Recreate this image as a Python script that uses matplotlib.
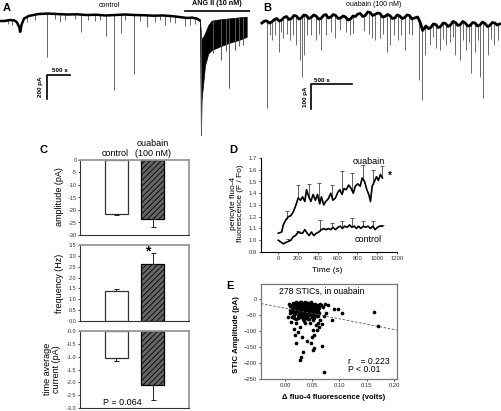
import numpy as np
import matplotlib
matplotlib.use("Agg")
from matplotlib import pyplot as plt

plt.rcParams['font.family'] = ['Liberation Sans', 'DejaVu Sans']
plt.rcParams['hatch.linewidth'] = 0.6

W, H = 501, 411

# ---- A: control then ANG II trace (s, pA)
a_ctrl_t = [0, 100, 200, 300, 350, 400, 420, 450, 500, 600, 800, 1000, 1200, 1400, 1600, 1800,
            2000, 2200, 2400, 2600, 2800, 3000, 3200, 3400, 3600, 3800, 3900, 4000, 4100, 4160]
a_ctrl_i = [-50, -50, -42, -45, -60, -100, -140, -80, -30, -8, 8, 12, 8, 4, 6, 0,
            2, -4, 0, 4, 0, -2, -6, -4, -10, -20, -25, -22, -30, -45]
a_spk_t = [167, 250, 563, 729, 979, 1146, 1250, 1354, 1563, 1688, 1833, 1979, 2083, 2208, 2375,
           2521, 2604, 2792, 2917, 3063, 3229, 3333, 3438, 3542, 3646, 3854, 3958, 4063]
a_spk_i = [-75, -83, -58, -42, -350, -33, -58, -42, -33, -142, -42, -50, -42, -175, -625,
           -150, -42, -492, -50, -100, -58, -42, -83, -58, -67, -92, -83, -75]
ang_t = [4165, 4185, 4201, 4236, 4271, 4340, 4410, 4583, 4792, 5000, 5139]
ang_hi = [-45, -150, -200, -180, -150, -83, -47, -36, -28, -19, -14]
ang_lo = [-45, -1000, -700, -560, -420, -320, -292, -262, -230, -205, -183]
ang_spk_t = [4181, 4437, 4597, 4700, 4771, 4900, 4980, 5063]
ang_spk_i = [-1000, -317, -375, -300, -608, -290, -260, -250]

# ---- B: ouabain trace (s, pA)
b_t = [0, 30, 60, 90, 120, 150, 180, 210, 240, 270, 300, 330, 360, 390, 420, 450, 480, 510,
       540, 570, 600, 630, 660, 690, 720, 750, 780, 810, 840, 870, 900, 930, 960, 990, 1020,
       1050, 1080, 1110, 1140, 1170, 1200, 1230, 1260, 1290, 1320, 1350, 1380, 1410, 1440,
       1470, 1500, 1530, 1560, 1590, 1620, 1650, 1680, 1710, 1740, 1770, 1800, 1830, 1860,
       1900, 1930, 1960, 2000, 2030, 2060, 2090, 2120, 2150, 2180, 2210, 2240, 2270, 2300,
       2330, 2360, 2390, 2420, 2450, 2480, 2510, 2540, 2570, 2600, 2630, 2660, 2690, 2720,
       2750, 2780, 2810, 2840, 2870, 2900]
b_i = [-12, -4, -4, -12, -8, 2, 6, -4, 0, 10, 14, 2, 6, 18, 16, 4, 8, 20,
       18, 6, 10, 20, 16, 4, 6, 18, 22, 8, 12, 22, 18, 6, 8, 16, 12,
       0, 4, 16, 14, 24, 26, 14, 18, 32, 30, 18, 22, 28, 26,
       12, 14, 22, 18, 6, 8, 20, 16, 6, 10, 20, 18, 4, 8,
       12, -10, -42, -24, -34, -30, -16, -18, -30, -26, -12, -14, -26, -20,
       -6, -10, -22, -18, -6, -12, -24, -22, -10, -12, -24, -20, -8, -14,
       -26, -22, -10, -12, -20, -16]
b_spk_t = [61, 100, 122, 159, 207, 230, 256, 300, 342, 380, 415, 464, 488, 512, 550, 598, 659,
           690, 720, 781, 840, 891, 952, 1020, 1074, 1110, 1250, 1300, 1342, 1379, 1440, 1480,
           1525, 1562, 1610, 1659, 1700, 1745, 1790, 1830, 1915, 1952, 1989, 2050, 2090, 2123,
           2172, 2210, 2245, 2294, 2330, 2355, 2416, 2450, 2489, 2520, 2550, 2599, 2630, 2660,
           2696, 2757, 2790, 2830, 2879]
b_spk_i = [-352, -60, -80, -60, -128, -50, -72, -55, -80, -60, -100, -160, -228, -140, -60, -60,
           -80, -55, -120, -60, -50, -72, -40, -50, -60, -52, -45, -55, -72, -80, -72, -55,
           -128, -100, -60, -80, -60, -120, -55, -60, -240, -320, -140, -100, -70, -112,
           -120, -75, -100, -88, -70, -140, -160, -80, -120, -90, -212, -128, -80, -228,
           -312, -140, -75, -100, -80]

# ---- C: bar summary
groups = ['control', 'ouabain']
amp_mean = [-21.5, -23.7]
amp_sem = [0.4, 3.2]
freq_mean = [1.37, 2.62]
freq_sem = [0.1, 0.5]
tac_mean = [-1.06, -2.12]
tac_sem = [0.09, 0.56]

# ---- D: fluo-4 time course
ouab_t = [0, 34, 50, 74, 101, 127, 151, 174, 201, 225, 245, 268, 285, 308, 329, 352, 375, 396,
          419, 436, 459, 479, 503, 530, 553, 577, 603, 623, 644, 664, 687, 711, 737, 758, 778,
          804, 828, 848, 872, 895, 915, 932, 949, 972, 992, 1012, 1032, 1053]
ouab_f = [1.06, 1.07, 1.13, 1.17, 1.20, 1.21, 1.24, 1.29, 1.36, 1.34, 1.37, 1.33, 1.43, 1.37,
          1.33, 1.39, 1.34, 1.39, 1.31, 1.37, 1.30, 1.33, 1.35, 1.40, 1.34, 1.36, 1.41, 1.43,
          1.39, 1.44, 1.43, 1.47, 1.44, 1.40, 1.46, 1.48, 1.46, 1.53, 1.50, 1.43, 1.39, 1.33,
          1.46, 1.50, 1.54, 1.51, 1.56, 1.53]
ouab_err_t = [84, 201, 312, 412, 543, 647, 744, 855, 962, 1049]
ouab_err_top = [1.25, 1.47, 1.48, 1.49, 1.47, 1.59, 1.57, 1.64, 1.60, 1.63]
ctrl_t = [0, 17, 50, 74, 101, 127, 151, 174, 201, 225, 245, 268, 292, 312, 335, 359, 385, 409,
          436, 459, 483, 506, 530, 553, 577, 603, 627, 647, 670, 694, 721, 744, 768, 791, 811,
          835, 859, 885, 905, 932, 956, 979, 1002, 1026, 1053]
ctrl_f = [1.00, 0.99, 0.97, 0.98, 0.99, 1.00, 1.03, 1.04, 1.07, 1.06, 1.06, 1.09, 1.06, 1.04,
          1.07, 1.04, 1.06, 1.07, 1.09, 1.10, 1.09, 1.10, 1.09, 1.11, 1.09, 1.11, 1.12, 1.10,
          1.12, 1.11, 1.13, 1.11, 1.12, 1.10, 1.12, 1.10, 1.12, 1.11, 1.12, 1.10, 1.12, 1.09,
          1.11, 1.12, 1.12]
ctrl_err_t = [101, 201, 419, 543, 647, 744, 855, 962, 1049]
ctrl_err_top = [1.01, 1.08, 1.17, 1.15, 1.16, 1.19, 1.16, 1.16, 1.13]

# ---- E: STIC amplitude vs fluo-4 change
stic_dF = [0.008, 0.010, 0.012, 0.014, 0.015, 0.016, 0.017, 0.018, 0.019, 0.020, 0.020, 0.021,
           0.022, 0.022, 0.023, 0.024, 0.024, 0.025, 0.025, 0.026, 0.026, 0.027, 0.027, 0.028,
           0.028, 0.029, 0.029, 0.030, 0.030, 0.031, 0.031, 0.032, 0.032, 0.033, 0.033, 0.034,
           0.034, 0.035, 0.035, 0.036, 0.036, 0.037, 0.037, 0.038, 0.038, 0.039, 0.039, 0.040,
           0.040, 0.041, 0.041, 0.042, 0.042, 0.043, 0.043, 0.044, 0.045, 0.045, 0.046, 0.046,
           0.047, 0.048, 0.048, 0.049, 0.050, 0.050, 0.051, 0.052, 0.053, 0.054, 0.055, 0.056,
           0.057, 0.058, 0.060, 0.062, 0.064, 0.066, 0.013, 0.011, 0.016, 0.019, 0.021, 0.023,
           0.026, 0.029, 0.031, 0.034, 0.036, 0.038, 0.040, 0.043, 0.045, 0.047, 0.024, 0.033,
           0.039, 0.044, 0.049, 0.053, 0.058, 0.014, 0.009, 0.017, 0.030, 0.035, 0.042, 0.050,
           0.055, 0.060, 0.063, 0.018, 0.027, 0.037, 0.047, 0.025, 0.032, 0.041, 0.046,
           0.164, 0.170, 0.105, 0.098, 0.090, 0.087, 0.078, 0.073, 0.070, 0.075, 0.072, 0.067,
           0.063, 0.064, 0.058, 0.057, 0.052, 0.054, 0.049, 0.054, 0.048, 0.040, 0.031, 0.028,
           0.023, 0.020, 0.018, 0.017, 0.013, 0.011, 0.006, 0.009, 0.033, 0.030, 0.028, 0.052,
           0.067, 0.072, 0.037, 0.043, 0.052, 0.046, 0.037, 0.021, 0.034, 0.060, 0.061, 0.055,
           0.020]
stic_amp = [-15, -22, -30, -12, -40, -25, -18, -35, -45, -10, -28, -20,
            -38, -15, -50, -25, -33, -12, -42, -20, -30, -55, -16, -38,
            -24, -10, -46, -30, -19, -35, -13, -26, -52, -40, -17, -22,
            -31, -45, -12, -28, -36, -20, -48, -15, -33, -25, -40, -18,
            -30, -55, -22, -12, -37, -28, -44, -18, -33, -25, -50, -14,
            -38, -22, -30, -42, -17, -28, -35, -20, -46, -26, -15, -32,
            -22, -40, -18, -28, -14, -20, -20, -40, -50, -14, -32, -22,
            -44, -34, -24, -14, -18, -24, -12, -20, -16, -26, -60, -62,
            -58, -62, -56, -60, -54, -52, -33, -58, -50, -56, -48, -48,
            -42, -36, -45, -24, -8, -10, -8, -36, -44, -34, -42,
            -42, -84, -43, -32, -32, -64, -19, -16, -24, -45, -54, -77,
            -88, -67, -98, -82, -96, -113, -120, -154, -136, -131, -118, -87,
            -103, -139, -112, -95, -57, -71, -57, -44, -165, -181, -191, -160,
            -146, -227, -55, -61, -66, -76, -76, -74, -70, -74, -53, -50,
            -63]
fit_slope = -333.0
fit_intercept = -28.6


def box(l, t, r, b):
    return [l / W, 1 - b / H, (r - l) / W, (b - t) / H]


def ftext(x, y, s, **kw):
    fig.text(x / W, 1 - y / H, s, **kw)


fig = plt.figure(figsize=(5.01, 4.11), dpi=100)

# ---------- A
ax = fig.add_axes(box(0, 0, 250, 140))
ax.set_xlim(0, 5208)
ax.set_ylim(-1042, 125)
ax.axis('off')
top = np.interp(a_spk_t, a_ctrl_t, a_ctrl_i)
ax.vlines(a_spk_t, a_spk_i, top, color='#666666', lw=0.7)
ax.plot(a_ctrl_t, a_ctrl_i, color='black', lw=1.8)
ax.fill_between(ang_t, ang_lo, ang_hi, color='black', lw=0.5)
top = np.interp(ang_spk_t, ang_t, ang_hi)
ax.vlines(ang_spk_t, ang_spk_i, top, color='#555555', lw=0.7)
ax.plot([3854, 5208], [36, 36], color='black', lw=1.2)
ax.text(4525, 70, 'ANG II (10 nM)', ha='center', va='bottom', fontsize=5.2, fontweight='bold')
ax.text(2270, 83, 'control', ha='center', va='center', fontsize=5)
ax.plot([972, 972, 1458], [-700, -500, -500], color='black', lw=1.2)
ax.text(1240, -462, '500 s', ha='center', va='center', fontsize=4.5, fontweight='bold')
ax.text(850, -600, '200 pA', ha='center', va='center', rotation=90, fontsize=4.5,
        fontweight='bold')

# ---------- B
ax = fig.add_axes(box(250, 0, 501, 140))
ax.set_xlim(-146, 2916)
ax.set_ylim(-480, 80)
ax.axis('off')
top = np.interp(b_spk_t, b_t, b_i)
ax.vlines(b_spk_t, b_spk_i, top, color='#6a6a6a', lw=0.7)
ax.plot(b_t, b_i, color='black', lw=2.0)
ax.text(1366, 60, 'ouabain (100 nM)', ha='center', va='center', fontsize=5)
ax.plot([598, 598, 1094], [-356, -256, -256], color='black', lw=1.2)
ax.text(728, -240, '500 s', ha='center', va='center', fontsize=4.5, fontweight='bold')
ax.text(525, -308, '100 pA', ha='center', va='center', rotation=90, fontsize=4.5,
        fontweight='bold')

# ---------- C
xpos = np.arange(len(groups))


def bar_panel(rect, mean, sem, ylim, ticks, fmt, up):
    ax = fig.add_axes(rect)
    ax.bar(xpos[0], mean[0], width=0.62, color='white', edgecolor='#333333', lw=0.9)
    ax.bar(xpos[1], mean[1], width=0.62, color='#666666', edgecolor='black', lw=0.9,
           hatch='//////')
    z = [0, 0]
    yerr = [z, sem] if up else [sem, z]
    ax.errorbar(xpos, mean, yerr=yerr, fmt='none', ecolor='#222222', elinewidth=0.7,
                capsize=1.8, capthick=0.7)
    ax.set_xlim(-1.0, 2.0)
    ax.set_ylim(*ylim)
    ax.set_xticks([])
    ax.set_yticks(ticks)
    ax.set_yticklabels([fmt % v for v in ticks])
    ax.tick_params(axis='y', labelsize=4, labelcolor='#333333', length=1.5, width=0.5,
                   pad=1)
    for s in ['top', 'right']:
        ax.spines[s].set_color('#999999')
        ax.spines[s].set_linewidth(1.3)
    for s in ['left', 'bottom']:
        ax.spines[s].set_color('#333333')
        ax.spines[s].set_linewidth(0.8)
    return ax


bar_panel(box(80, 160, 189, 235), amp_mean, amp_sem, (-30, 0), list(range(0, -31, -5)),
          '%d', False)
axf = bar_panel(box(80, 245, 189, 321), freq_mean, freq_sem, (0, 3.5),
                [0.5 * k for k in range(8)], '%.1f', True)
axf.text(xpos[1] - 0.15, 3.22, '*', ha='center', va='center', fontsize=10, fontweight='bold')
axt = bar_panel(box(80, 331, 189, 408), tac_mean, tac_sem, (-3, 0),
                [-0.5 * k for k in range(7)], '%.1f', False)
axt.text(0.18, -2.78, 'P = 0.064', ha='center', va='center', fontsize=6.5)

ftext(115, 153, 'control', ha='center', va='center', fontsize=6.5)
ftext(153, 144, 'ouabain', ha='center', va='center', fontsize=6.5)
ftext(153, 154, '(100 nM)', ha='center', va='center', fontsize=6.5)
ftext(60, 197, 'amplitude (pA)', ha='center', va='center', rotation=90, fontsize=6.5)
ftext(60, 283, 'frequency (Hz)', ha='center', va='center', rotation=90, fontsize=6.5)
ftext(52, 369, 'time average\ncurrent (pA)', ha='center', va='center', rotation=90,
      fontsize=6.5, linespacing=1.0)

# ---------- D
ax = fig.add_axes(box(261, 158, 397, 252))
lo = np.interp(ouab_err_t, ouab_t, ouab_f)
ax.vlines(ouab_err_t, lo, ouab_err_top, color='#444444', lw=0.6)
ax.hlines(ouab_err_top, np.array(ouab_err_t) - 20, np.array(ouab_err_t) + 20,
          color='#444444', lw=0.6)
lo = np.interp(ctrl_err_t, ctrl_t, ctrl_f)
ax.vlines(ctrl_err_t, lo, ctrl_err_top, color='#444444', lw=0.6)
ax.hlines(ctrl_err_top, np.array(ctrl_err_t) - 20, np.array(ctrl_err_t) + 20,
          color='#444444', lw=0.6)
ax.plot(ouab_t, ouab_f, color='black', lw=1.2)
ax.plot(ctrl_t, ctrl_f, color='black', lw=1.2)
ax.set_xlim(-175, 1200)
ax.set_ylim(0.9, 1.7)
ax.set_xticks(range(0, 1201, 200))
ax.set_yticks([0.9 + 0.1 * k for k in range(9)])
ax.set_yticklabels(['%.1f' % (0.9 + 0.1 * k) for k in range(9)])
ax.tick_params(labelsize=4.2, labelcolor='#333333', length=1.5, width=0.5, pad=1.5)
for s in ['top', 'right']:
    ax.spines[s].set_visible(False)
for s in ['left', 'bottom']:
    ax.spines[s].set_linewidth(0.8)
ax.text(910, 1.668, 'ouabain', ha='center', va='center', fontsize=6.5)
ax.text(910, 1.008, 'control', ha='center', va='center', fontsize=6.5)
ax.text(1129, 1.547, '*', ha='center', va='center', fontsize=7, fontweight='bold')
ftext(327, 271, 'Time (s)', ha='center', va='center', fontsize=6)
ftext(237, 203, 'pericyte fluo-4\nfluorescence (F / Fo)', ha='center', va='center',
      rotation=90, fontsize=6, linespacing=1.1)

# ---------- E
ax = fig.add_axes(box(261, 284, 397, 379))
ax.scatter(stic_dF, stic_amp, s=7, color='black', lw=0)
xl = np.array([-0.044, 0.2055])
ax.plot(xl, fit_intercept + fit_slope * xl, color='#555555', lw=0.6, ls=(0, (3, 2)))
ax.set_xlim(-0.044, 0.2055)
ax.set_ylim(-250, 47)
ax.set_xticks([0, 0.05, 0.10, 0.15, 0.20])
ax.set_xticklabels(['0.00', '0.05', '0.10', '0.15', '0.20'])
ax.set_yticks(range(0, -251, -50))
ax.tick_params(labelsize=4.2, labelcolor='#333333', length=1.5, width=0.5, pad=1.5)
for s in ax.spines.values():
    s.set_color('#777777')
    s.set_linewidth(0.9)
ax.text(0.0673, 22.8, '278 STICs, in ouabain', ha='center', va='center', fontsize=6.2)
ax.text(0.115, -196, 'r    = 0.223', ha='left', va='center', fontsize=6.2)
ax.text(0.115, -220, 'P < 0.01', ha='left', va='center', fontsize=6.2)
ftext(334, 397, '\u0394 fluo-4 fluorescence (volts)', ha='center', va='center', fontsize=5.5,
      fontweight='bold')
ftext(236, 335, 'STIC Amplitude (pA)', ha='center', va='center', rotation=90, fontsize=5.7,
      fontweight='bold')

# panel letters
for lab, x, y in [('A', 7, 8), ('B', 267, 8), ('C', 43.5, 150), ('D', 233, 150),
                  ('E', 230, 286)]:
    ftext(x, y, lab, ha='center', va='center', fontsize=8, fontweight='bold')

fig.savefig('out.png', dpi=100)
